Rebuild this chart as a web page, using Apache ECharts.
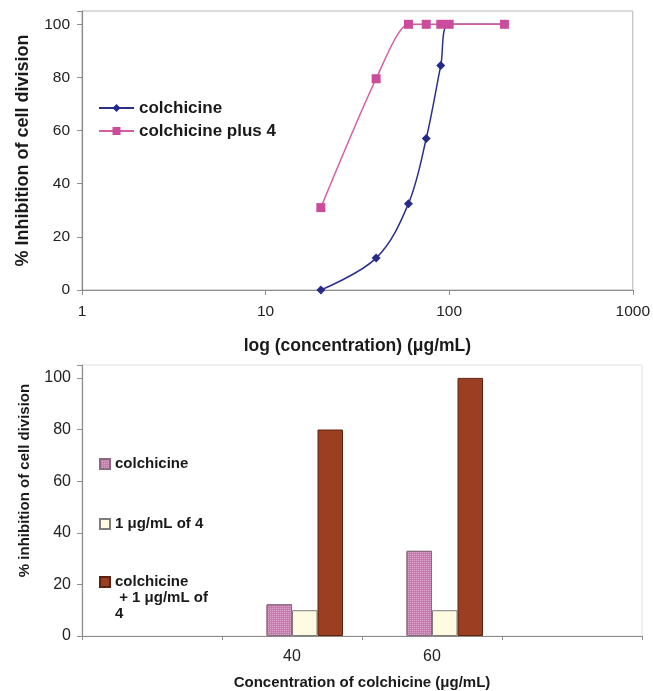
<!DOCTYPE html>
<html>
<head>
<meta charset="utf-8">
<script src="https://cdn.jsdelivr.net/npm/echarts@6/dist/echarts.min.js"></script>
<style>
html,body{margin:0;padding:0;background:#fff;}
#c{width:653px;height:691px;}
</style>
</head>
<body>
<div id="c"></div>
<script>
// ---- Top chart data (log concentration vs % inhibition) ----
var colchicineConc = [20, 40, 60, 75, 90, 100, 200];
var colchicineInhib = [0, 12, 32.5, 57, 84.5, 100, 100];
var plus4Conc = [20, 40, 60, 75, 90, 100, 200];
var plus4Inhib = [31, 79.5, 100, 100, 100, 100, 100];
var topYTicks = [0, 20, 40, 60, 80, 100];

// ---- Bottom chart data ----
var barCategories = ['', '40', '60', ''];
var barColchicine = [null, 12.3, 33, null];
var barOf4 = [null, 10, 10, null];
var barCombined = [null, 80, 100, null];
var barHidden = [null, null, null, null];

var seriesNames = {
  c: 'colchicine',
  p4: 'colchicine plus 4',
  b1: 'colchicine ',
  b2: '1 μg/mL of 4',
  b3: 'colchicine + 1 μg/mL of 4'
};

function pairs(xs, ys) { return xs.map(function (x, i) { return [x, ys[i]]; }); }
function hideOff(v) { return (v % 20 === 0) ? String(v) : ''; }

var font = 'Arial, "Liberation Sans", sans-serif';
var chart = echarts.init(document.getElementById('c'), null, {renderer: 'canvas'});

chart.setOption({
  backgroundColor: '#ffffff',
  animation: false,
  grid: [
    {left: 82, top: 11, width: 552, height: 279, show: true, borderColor: '#b5b5b5', borderWidth: 1, containLabel: false},
    {left: 82, top: 365, width: 560, height: 271, show: true, borderColor: '#e2e2e2', borderWidth: 1, containLabel: false}
  ],
  xAxis: [
    {
      gridIndex: 0, type: 'log', logBase: 10, min: 1, max: 1000,
      name: 'log (concentration) (μg/mL)', nameLocation: 'middle', nameGap: 47,
      nameTextStyle: {fontFamily: font, fontWeight: 'bold', fontSize: 17.5, color: '#1a1a1a'},
      axisLine: {lineStyle: {color: '#8c8c8c', width: 1.2}},
      axisTick: {show: true, length: 5, lineStyle: {color: '#8c8c8c'}},
      minorTick: {show: false},
      splitLine: {show: false},
      axisLabel: {fontFamily: font, fontSize: 15.5, color: '#222', margin: 14,
        formatter: function (v) { return String(Math.round(v)); }}
    },
    {
      gridIndex: 1, type: 'category', data: barCategories, boundaryGap: true,
      name: 'Concentration of colchicine (μg/mL)', nameLocation: 'middle', nameGap: 39,
      nameTextStyle: {fontFamily: font, fontWeight: 'bold', fontSize: 15, color: '#1a1a1a'},
      axisLine: {lineStyle: {color: '#8c8c8c', width: 1.2}},
      axisTick: {show: true, length: 4, alignWithLabel: false, lineStyle: {color: '#8c8c8c'}},
      splitLine: {show: false},
      axisLabel: {fontFamily: font, fontSize: 16, color: '#222', margin: 13}
    }
  ],
  yAxis: [
    {
      gridIndex: 0, type: 'value', min: 0, max: 105, interval: 20,
      name: '% Inhibition of cell division', nameLocation: 'middle', nameGap: 50,
      nameTextStyle: {fontFamily: font, fontWeight: 'bold', fontSize: 18, color: '#1a1a1a'},
      axisLine: {show: true, lineStyle: {color: '#8c8c8c', width: 1.2}},
      axisTick: {show: true, length: 5, lineStyle: {color: '#8c8c8c'}},
      splitLine: {show: false},
      axisLabel: {fontFamily: font, fontSize: 15.5, color: '#222', margin: 12, formatter: hideOff}
    },
    {
      gridIndex: 1, type: 'value', min: 0, max: 105, interval: 20,
      name: '% inhibition of cell division', nameLocation: 'middle', nameGap: 50,
      nameTextStyle: {fontFamily: font, fontWeight: 'bold', fontSize: 15, color: '#1a1a1a', padding: [0, 0, 0, 40]},
      axisLine: {show: true, lineStyle: {color: '#8c8c8c', width: 1.2}},
      axisTick: {show: true, length: 5, lineStyle: {color: '#8c8c8c'}},
      splitLine: {show: false},
      axisLabel: {fontFamily: font, fontSize: 16, color: '#222', margin: 11, formatter: hideOff}
    }
  ],
  legend: [
    {
      data: [seriesNames.c, seriesNames.p4], orient: 'vertical', left: 98, top: 98, padding: 0,
      itemWidth: 35, itemHeight: 10, itemGap: 3,
      textStyle: {fontFamily: font, fontWeight: 'bold', fontSize: 17, color: '#1a1a1a', lineHeight: 20}
    },
    {
      data: [{name: seriesNames.b1, icon: 'rect'}], orient: 'vertical', left: 99, top: 456, padding: 0,
      itemWidth: 10, itemHeight: 10,
      textStyle: {fontFamily: font, fontWeight: 'bold', fontSize: 15, color: '#1a1a1a', lineHeight: 16}
    },
    {
      data: [{name: seriesNames.b2, icon: 'rect'}], orient: 'vertical', left: 99, top: 516, padding: 0,
      itemWidth: 10, itemHeight: 10,
      textStyle: {fontFamily: font, fontWeight: 'bold', fontSize: 15, color: '#1a1a1a', lineHeight: 16}
    },
    {
      data: [{name: seriesNames.b3, icon: 'rect'}], orient: 'vertical', left: 99, top: 542, padding: 0,
      itemWidth: 10, itemHeight: 10,
      formatter: function () { return ' \n \ncolchicine\n + 1 μg/mL of\n4'; },
      textStyle: {fontFamily: font, fontWeight: 'bold', fontSize: 15, color: '#1a1a1a', lineHeight: 16}
    }
  ],
  series: [
    {
      name: seriesNames.c, type: 'line', xAxisIndex: 0, yAxisIndex: 0,
      data: pairs(colchicineConc, colchicineInhib), smooth: 0.35,
      symbol: 'diamond', symbolSize: 9,
      lineStyle: {color: '#2B2F8E', width: 1.5},
      itemStyle: {color: '#262A88'}, z: 2
    },
    {
      name: seriesNames.p4, type: 'line', xAxisIndex: 0, yAxisIndex: 0,
      data: pairs(plus4Conc, plus4Inhib), smooth: 0.25,
      symbol: 'rect', symbolSize: 9,
      lineStyle: {color: '#D65CA6', width: 1.5},
      itemStyle: {color: '#CC4C9C'}, z: 3
    },
    {
      name: 'hidden', type: 'bar', xAxisIndex: 1, yAxisIndex: 1,
      data: barHidden, barWidth: 25.5, barGap: '0%'
    },
    {
      name: seriesNames.b1, type: 'bar', xAxisIndex: 1, yAxisIndex: 1,
      data: barColchicine, barWidth: 25.5, barGap: '0%',
      itemStyle: {
        color: '#C87CB0', borderColor: '#8a6a80', borderWidth: 1,
        decal: {symbol: 'rect', symbolSize: 1, dashArrayX: [1, 1], dashArrayY: [1, 1], color: 'rgba(255,255,255,0.3)', rotation: 0}
      }
    },
    {
      name: seriesNames.b2, type: 'bar', xAxisIndex: 1, yAxisIndex: 1,
      data: barOf4, barWidth: 25.5, barGap: '0%',
      itemStyle: {color: '#FFFBE1', borderColor: '#7d7d7d', borderWidth: 1}
    },
    {
      name: seriesNames.b3, type: 'bar', xAxisIndex: 1, yAxisIndex: 1,
      data: barCombined, barWidth: 25.5, barGap: '0%',
      itemStyle: {color: '#9C3E22', borderColor: '#5a2412', borderWidth: 1}
    }
  ]
});
</script>
</body>
</html>
